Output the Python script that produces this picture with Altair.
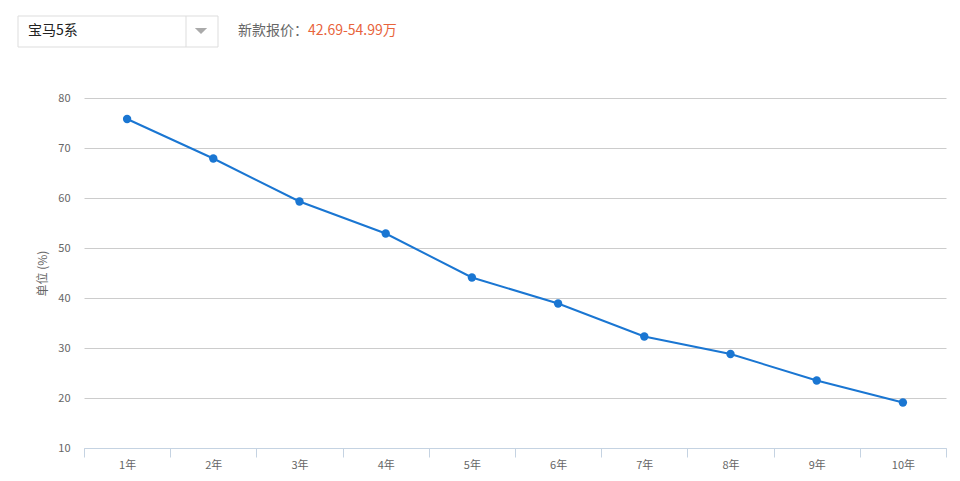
import altair as alt
import pandas as pd

years = ["1年", "2年", "3年", "4年", "5年", "6年", "7年", "8年", "9年", "10年"]
values = [75.8, 67.9, 59.3, 52.9, 44.1, 38.9, 32.3, 28.8, 23.5, 19.1]
y_ticks = [10, 20, 30, 40, 50, 60, 70, 80]
model_name = "宝马5系"
price_label = "新款报价："
price_value = "42.69-54.99万"
y_title = "单位 (%)"

FONT = "Noto Sans CJK SC"
LINE_COLOR = "#1a76d2"

df = pd.DataFrame({"year": years, "value": values})

x_enc = alt.X(
    "year:N",
    sort=years,
    scale=alt.Scale(type="band", paddingInner=0, paddingOuter=0),
    axis=alt.Axis(
        title=None,
        labelAngle=0,
        tickBand="extent",
        tickSize=9,
        tickColor="#c5d3e2",
        domainColor="#c5d3e2",
        labelColor="#666666",
        labelFontSize=11,
        labelFont=FONT,
        labelPadding=2,
        grid=False,
    ),
)
y_enc = alt.Y(
    "value:Q",
    scale=alt.Scale(domain=[10, 80], nice=False, zero=False),
    axis=alt.Axis(
        title=y_title,
        values=y_ticks,
        domain=False,
        ticks=False,
        tickSize=0,
        labelPadding=14,
        labelColor="#666666",
        labelFontSize=11,
        labelFont=FONT,
        gridColor="#cccccc",
        gridWidth=1,
        titleColor="#666666",
        titleFont=FONT,
        titleFontSize=12,
        titleFontWeight="normal",
        titleAngle=-90,
        titleX=-42,
        titleY=175,
        titleAlign="center",
        titleBaseline="middle",
    ),
)

base = alt.Chart(df)
line = base.mark_line(color=LINE_COLOR, strokeWidth=2).encode(x=x_enc, y=y_enc)
points = base.mark_point(filled=True, color=LINE_COLOR, size=70, opacity=1).encode(
    x=alt.X("year:N", sort=years), y="value:Q"
)

hdr = pd.DataFrame({"k": [0]})
box = alt.Chart(hdr).mark_rect(fill="white", stroke="#dddddd", strokeWidth=1).encode(
    x=alt.value(-66), x2=alt.value(134), y=alt.value(-82), y2=alt.value(-51)
)
divider = alt.Chart(hdr).mark_rule(color="#dddddd", strokeWidth=1).encode(
    x=alt.value(102), y=alt.value(-82), y2=alt.value(-51)
)
tri = alt.Chart(hdr).mark_point(
    shape="M-1,-0.5L1,-0.5L0,0.5Z", filled=True, color="#aaaaaa", size=150, opacity=1, strokeWidth=0
).encode(x=alt.value(117), y=alt.value(-67))
name_txt = alt.Chart(hdr).mark_text(
    text=model_name, font=FONT, fontSize=14, color="#222222", align="left", baseline="middle"
).encode(x=alt.value(-56), y=alt.value(-67))
label_txt = alt.Chart(hdr).mark_text(
    text=price_label, font=FONT, fontSize=14, color="#666666", align="left", baseline="middle"
).encode(x=alt.value(154), y=alt.value(-67))
price_txt = alt.Chart(hdr).mark_text(
    text=price_value, font=FONT, fontSize=14, color="#e8643c", align="left", baseline="middle"
).encode(x=alt.value(224), y=alt.value(-67))

chart = alt.layer(line, points, box, divider, tri, name_txt, label_txt, price_txt).properties(
    width=862,
    height=350,
    background="white",
    autosize=alt.AutoSizeParams(type="none"),
    padding={"left": 76, "top": 90, "right": 6, "bottom": 30},
).configure_view(stroke=None)

chart.save("out.html", embed_options={"renderer": "svg", "actions": False})
